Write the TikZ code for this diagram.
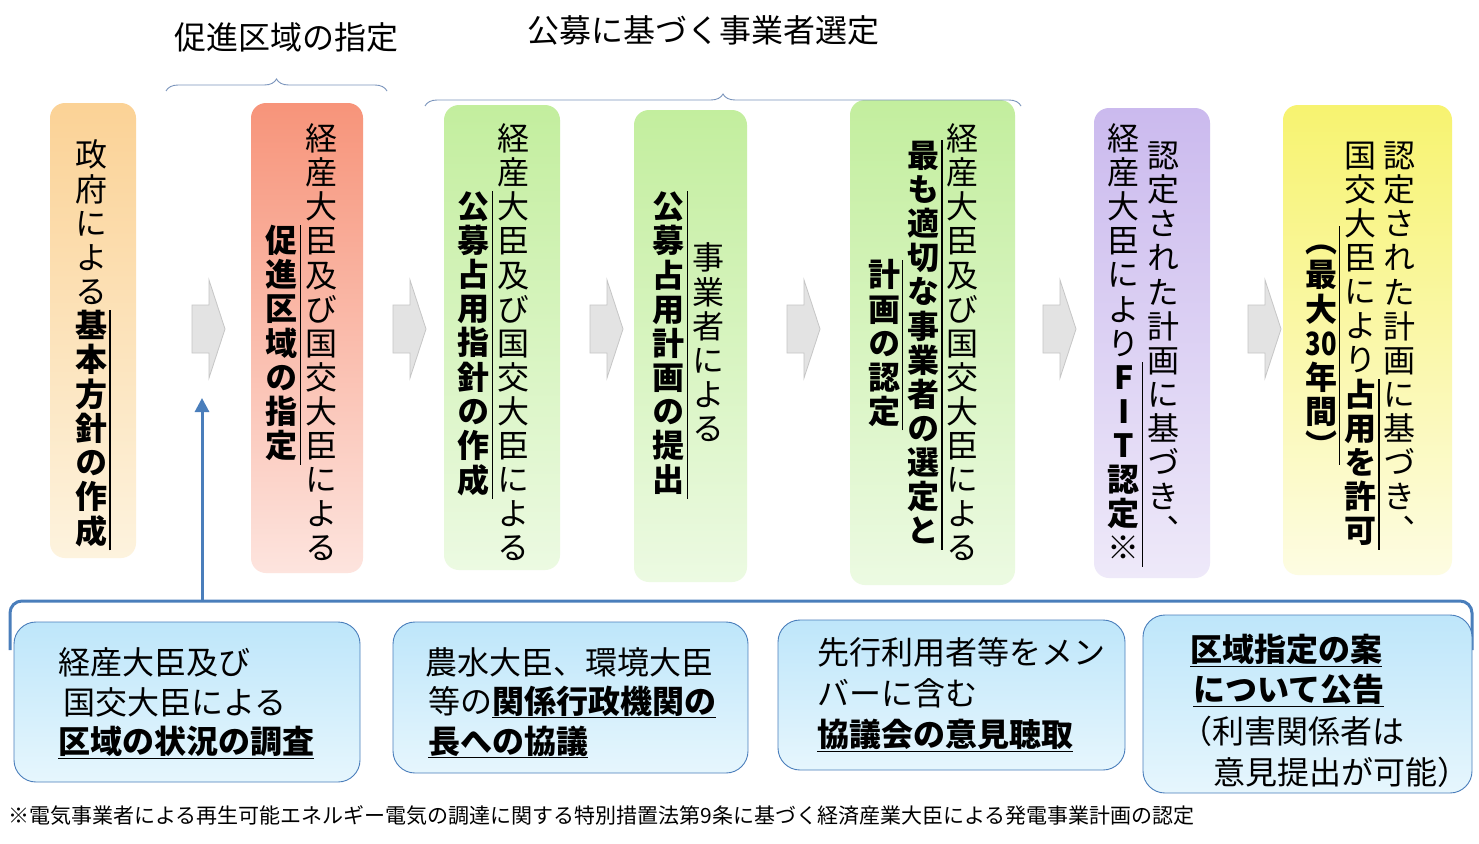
\documentclass[tikz,border=0pt]{standalone}
\usepackage{fontspec}
\usepackage{graphicx}
\setmainfont{Noto Sans CJK JP}
\newfontfamily\vfont[RawFeature=+vert]{Noto Sans CJK JP}
\usetikzlibrary{decorations.pathreplacing,arrows.meta}
\newif\ifvu
\def\endvt{\endvt}\def\B{\B}
\def\thirty{\scalebox{0.8}[1]{30}}
\newcommand\vchar[1]{\hbox{\vrule height .85em depth .215em width 0pt\hbox to 1em{\hss#1\hss}\kern2pt\ifvu\vrule width 1.2pt\else\kern1.2pt\fi}}
\def\vtaux#1{\ifx\endvt#1\else\ifx\B#1\vutrue\bfseries\else\vchar{#1}\fi\expandafter\vtaux\fi}
\newcommand\vcol[1]{\vcenter{\offinterlineskip\vufalse\vfont\vtaux#1\endvt}}
\newcommand\uln[1]{\underline{#1}}
\definecolor{lineblue}{HTML}{4A7EBB}
\definecolor{bracec}{HTML}{7A94BC}
\tikzset{
  stagebox/.style={rounded corners=15pt, draw=none, inner sep=0pt},
  vtext/.style={inner sep=0pt, font=\fontsize{32}{34}\selectfont},
  chev/.style={fill=gray!22, draw=gray!45, line width=0.8pt},
  infobox/.style={rounded corners=22pt, draw=lineblue, line width=0.9pt, top color={rgb,255:red,190;green,230;blue,250}, bottom color={rgb,255:red,230;green,246;blue,253}, inner sep=0pt},
  htext/.style={anchor=west, inner sep=0pt, font=\fontsize{32}{36}\selectfont},
  lbl/.style={inner sep=0pt, font=\fontsize{32}{36}\selectfont},
  brc/.style={draw=bracec, line width=0.9pt, decorate, decoration={brace, amplitude=12pt}}
}
\begin{document}
\begin{tikzpicture}[x=1pt,y=-1pt]
\useasboundingbox[fill=white] (0,0) rectangle (1479,843);
% stage boxes
\node[stagebox, minimum width=86pt, minimum height=455pt, top color={rgb,255:red,251;green,210;blue,150}, bottom color={rgb,255:red,253;green,243;blue,222}] (b1) at (93,330.5) {};
\node[stagebox, minimum width=112pt, minimum height=470pt, top color={rgb,255:red,247;green,148;blue,122}, bottom color={rgb,255:red,253;green,228;blue,222}] (b2) at (307,338) {};
\node[stagebox, minimum width=116pt, minimum height=465pt, top color={rgb,255:red,195;green,238;blue,158}, bottom color={rgb,255:red,236;green,250;blue,226}] (b3) at (502,337.5) {};
\node[stagebox, minimum width=113pt, minimum height=472pt, top color={rgb,255:red,195;green,238;blue,158}, bottom color={rgb,255:red,236;green,250;blue,226}] (b4) at (690.5,346) {};
\node[stagebox, minimum width=165pt, minimum height=485pt, top color={rgb,255:red,195;green,238;blue,158}, bottom color={rgb,255:red,236;green,250;blue,226}] (b5) at (932.5,342.5) {};
\node[stagebox, minimum width=116pt, minimum height=470pt, top color={rgb,255:red,203;green,186;blue,238}, bottom color={rgb,255:red,238;green,233;blue,249}] (b6) at (1152,343) {};
\node[stagebox, minimum width=169pt, minimum height=470pt, top color={rgb,255:red,247;green,243;blue,112}, bottom color={rgb,255:red,253;green,252;blue,226}] (b7) at (1367.5,340) {};
% vertical texts
\node[vtext] (t1) at (93,345) {$\vcol{政府による\B 基本方針の作成}$};
\node[vtext] (t2) at (303,345) {$\vcol{\B 促進区域の指定}\hskip4pt\vcol{経産大臣及び国交大臣による}$};
\node[vtext] (t3) at (495,345) {$\vcol{\B 公募占用指針の作成}\hskip4pt\vcol{経産大臣及び国交大臣による}$};
\node[vtext] (t4) at (690,345) {$\vcol{\B 公募占用計画の提出}\hskip4pt\vcol{事業者による}$};
\node[vtext] (t5) at (925,345) {$\vcol{\B 計画の認定}\hskip4pt\vcol{\B 最も適切な事業者の選定と}\hskip4pt\vcol{経産大臣及び国交大臣による}$};
\node[vtext] (t6) at (1145,345) {$\vcol{経産大臣により\B FIT認定※}\hskip4pt\vcol{認定された計画に基づき、}$};
\node[vtext] (t7) at (1362,345) {$\vcol{\B （最大\thirty 年間）}\hskip4pt\vcol{国交大臣により\B 占用を許可}\hskip4pt\vcol{認定された計画に基づき、}$};
% chevrons
\foreach \x/\n in {192/1,393/2,590/3,787/4,1043/5,1248/6}{
  \draw[chev] (\x,305) -- (\x+17,305) -- (\x+17,280) -- (\x+33,329) -- (\x+17,378) -- (\x+17,353) -- (\x,353) -- cycle;
}
% braces
\draw[brc] (166,91) -- (387,91);
\draw[brc] (425,106) -- (1021,106);
\node[lbl] (l1) at (286,37) {促進区域の指定};
\node[lbl] (l2) at (703,30) {公募に基づく事業者選定};
% bottom bracket and arrow
\coordinate (bl) at (10,650);
\coordinate (br) at (1472,650);
\coordinate (am) at (202,601);
\coordinate (at) at (202,398);
\draw[lineblue, line width=3pt, rounded corners=12pt] (bl) -- (10,601) -- (1472,601) -- (br);
\draw[lineblue, line width=3pt, -{Triangle[length=14pt,width=14pt]}] (am) -- (at);
% info boxes
\node[infobox, minimum width=346pt, minimum height=160pt] (i1) at (187,702) {};
\node[infobox, minimum width=355pt, minimum height=151pt] (i2) at (570.5,697.5) {};
\node[infobox, minimum width=347pt, minimum height=150pt] (i3) at (951.5,695) {};
\node[infobox, minimum width=329pt, minimum height=178pt] (i4) at (1307.5,704) {};
\node[htext] (a1) at (58,662) {経産大臣及び};
\node[htext] (a2) at (63,702) {国交大臣による};
\node[htext] (a3) at (58,742) {\bfseries\uln{区域の状況の調査}};
\node[htext] (c1) at (425,662) {農水大臣、環境大臣};
\node[htext] (c2) at (428,702) {等の\bfseries\uln{関係行政機関の}};
\node[htext] (c3) at (428,742) {\bfseries\uln{長への協議}};
\node[htext] (d1) at (817,652) {先行利用者等をメン};
\node[htext] (d2) at (817,693) {バーに含む};
\node[htext] (d3) at (817,735) {\bfseries\uln{協議会の意見聴取}};
\node[htext] (e1) at (1190,650) {\bfseries\uln{区域指定の案}};
\node[htext] (e2) at (1193,690) {\bfseries\uln{について公告}};
\node[htext] (e3) at (1180,731) {（利害関係者は};
\node[htext] (e4) at (1213,772) {意見提出が可能）};
\node[anchor=west, inner sep=0pt, font=\fontsize{21}{24}\selectfont] (fn) at (8,815) {※電気事業者による再生可能エネルギー電気の調達に関する特別措置法第9条に基づく経済産業大臣による発電事業計画の認定};
\end{tikzpicture}
\end{document}
